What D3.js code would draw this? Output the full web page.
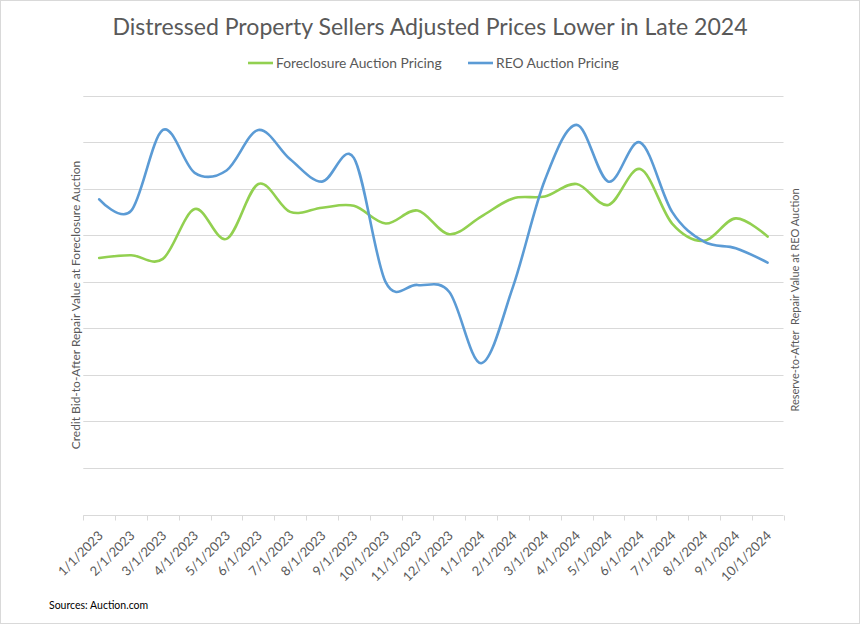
<!DOCTYPE html>
<html>
<head>
<meta charset="utf-8">
<script src="https://cdn.jsdelivr.net/npm/d3@7"></script>
<style>
  html, body { margin: 0; padding: 0; background: #fff; }
  svg { display: block; font-family: Lato, "Open Sans", sans-serif; }
</style>
</head>
<body>
<svg id="chart" width="860" height="624"></svg>
<script>
// ---- data ----
const categories = ["1/1/2023","2/1/2023","3/1/2023","4/1/2023","5/1/2023","6/1/2023","7/1/2023","8/1/2023","9/1/2023","10/1/2023","11/1/2023","12/1/2023","1/1/2024","2/1/2024","3/1/2024","4/1/2024","5/1/2024","6/1/2024","7/1/2024","8/1/2024","9/1/2024","10/1/2024"];
const foreclosurePricing = [55.1, 55.7, 54.9, 65.6, 59.2, 71.0, 65.0, 65.9, 66.3, 62.5, 65.3, 60.2, 64.0, 67.9, 68.3, 71.0, 66.5, 74.2, 62.5, 58.8, 63.6, 59.7];
const reoPricing = [67.7, 65.2, 82.6, 73.4, 73.9, 82.6, 76.3, 71.5, 76.6, 49.9, 49.3, 47.8, 32.5, 48.9, 71.8, 83.7, 71.5, 79.9, 65.0, 58.6, 57.2, 54.1];
const gridTicks = [0, 10, 20, 30, 40, 50, 60, 70, 80, 90];
const seriesNames = ["Foreclosure Auction Pricing", "REO Auction Pricing"];

// ---- layout ----
const W = 860, H = 624;
const plot = { left: 83.3, right: 783.5, top: 95.5, bottom: 514.5 };
const svg = d3.select("#chart");
const textColor = "#595959";

// border
svg.append("rect").attr("x", 0.5).attr("y", 0.5).attr("width", W - 1).attr("height", H - 1)
  .attr("fill", "#fff").attr("stroke", "#d9d9d9").attr("stroke-width", 1);

const x = d3.scaleBand().domain(categories).range([plot.left, plot.right]);
const y = d3.scaleLinear().domain([0, 90]).range([plot.bottom, plot.top]);
const y2 = d3.scaleLinear().domain([0, 90]).range([plot.bottom, plot.top]);

// gridlines
svg.append("g").selectAll("line").data(gridTicks.filter(d => d > 0)).join("line")
  .attr("x1", plot.left).attr("x2", plot.right)
  .attr("y1", d => Math.round(y(d)) + 0.5).attr("y2", d => Math.round(y(d)) + 0.5)
  .attr("stroke", "#d9d9d9").attr("stroke-width", 1);

// x axis
const xAxis = svg.append("g").attr("transform", `translate(0,${Math.round(plot.bottom) + 0.5})`);
xAxis.append("line").attr("x1", plot.left).attr("x2", plot.right).attr("stroke", "#d9d9d9").attr("stroke-width", 1);
const boundaries = categories.map(c => x(c)).concat([plot.right]);
xAxis.selectAll("line.tick").data(boundaries).join("line").attr("class", "tick")
  .attr("x1", d => Math.round(d) + 0.5).attr("x2", d => Math.round(d) + 0.5)
  .attr("y1", 0).attr("y2", 5).attr("stroke", "#d9d9d9");
xAxis.selectAll("text").data(categories).join("text")
  .attr("transform", d => `translate(${x(d) + x.bandwidth() / 2 + 4.5},21) rotate(-45)`)
  .attr("text-anchor", "end")
  .attr("font-size", 13).attr("fill", textColor)
  .text(d => d);

// lines
const curve = d3.curveCardinal.tension(0);
const lineF = d3.line().x((d, i) => x(categories[i]) + x.bandwidth() / 2).y(d => y(d)).curve(curve);
const lineR = d3.line().x((d, i) => x(categories[i]) + x.bandwidth() / 2).y(d => y2(d)).curve(curve);
svg.append("path").datum(foreclosurePricing).attr("d", lineF)
  .attr("fill", "none").attr("stroke", "#92D050").attr("stroke-width", 2.6).attr("stroke-linecap", "round");
svg.append("path").datum(reoPricing).attr("d", lineR)
  .attr("fill", "none").attr("stroke", "#5B9BD5").attr("stroke-width", 2.6).attr("stroke-linecap", "round");

// title
svg.append("text").attr("x", 430).attr("y", 35).attr("text-anchor", "middle")
  .attr("font-size", 23.1).attr("fill", textColor)
  .text("Distressed Property Sellers Adjusted Prices Lower in Late 2024");

// legend
const legendItems = [
  { name: seriesNames[0], color: "#92D050", x: 248 },
  { name: seriesNames[1], color: "#5B9BD5", x: 468 }
];
const lg = svg.append("g").selectAll("g").data(legendItems).join("g")
  .attr("transform", d => `translate(${d.x},63)`);
lg.append("line").attr("x1", 0).attr("x2", 25).attr("stroke", d => d.color).attr("stroke-width", 2.6);
lg.append("text").attr("x", 28).attr("y", 5).attr("font-size", 13.8).attr("fill", textColor).text(d => d.name);

// axis titles
svg.append("text").attr("transform", "translate(80,305) rotate(-90)").attr("text-anchor", "middle")
  .attr("font-size", 12).attr("fill", textColor)
  .text("Credit Bid-to-After Repair Value at Foreclosure Auction");
svg.append("text").attr("transform", "translate(799,300) rotate(-90)").attr("text-anchor", "middle")
  .attr("font-size", 11).attr("fill", textColor).attr("xml:space", "preserve")
  .style("white-space", "pre")
  .text("Reserve-to-After  Repair Value at REO Auction");

// source
svg.append("text").attr("x", 49).attr("y", 609).attr("font-size", 10.5).attr("fill", "#000")
  .text("Sources: Auction.com");
</script>
</body>
</html>
